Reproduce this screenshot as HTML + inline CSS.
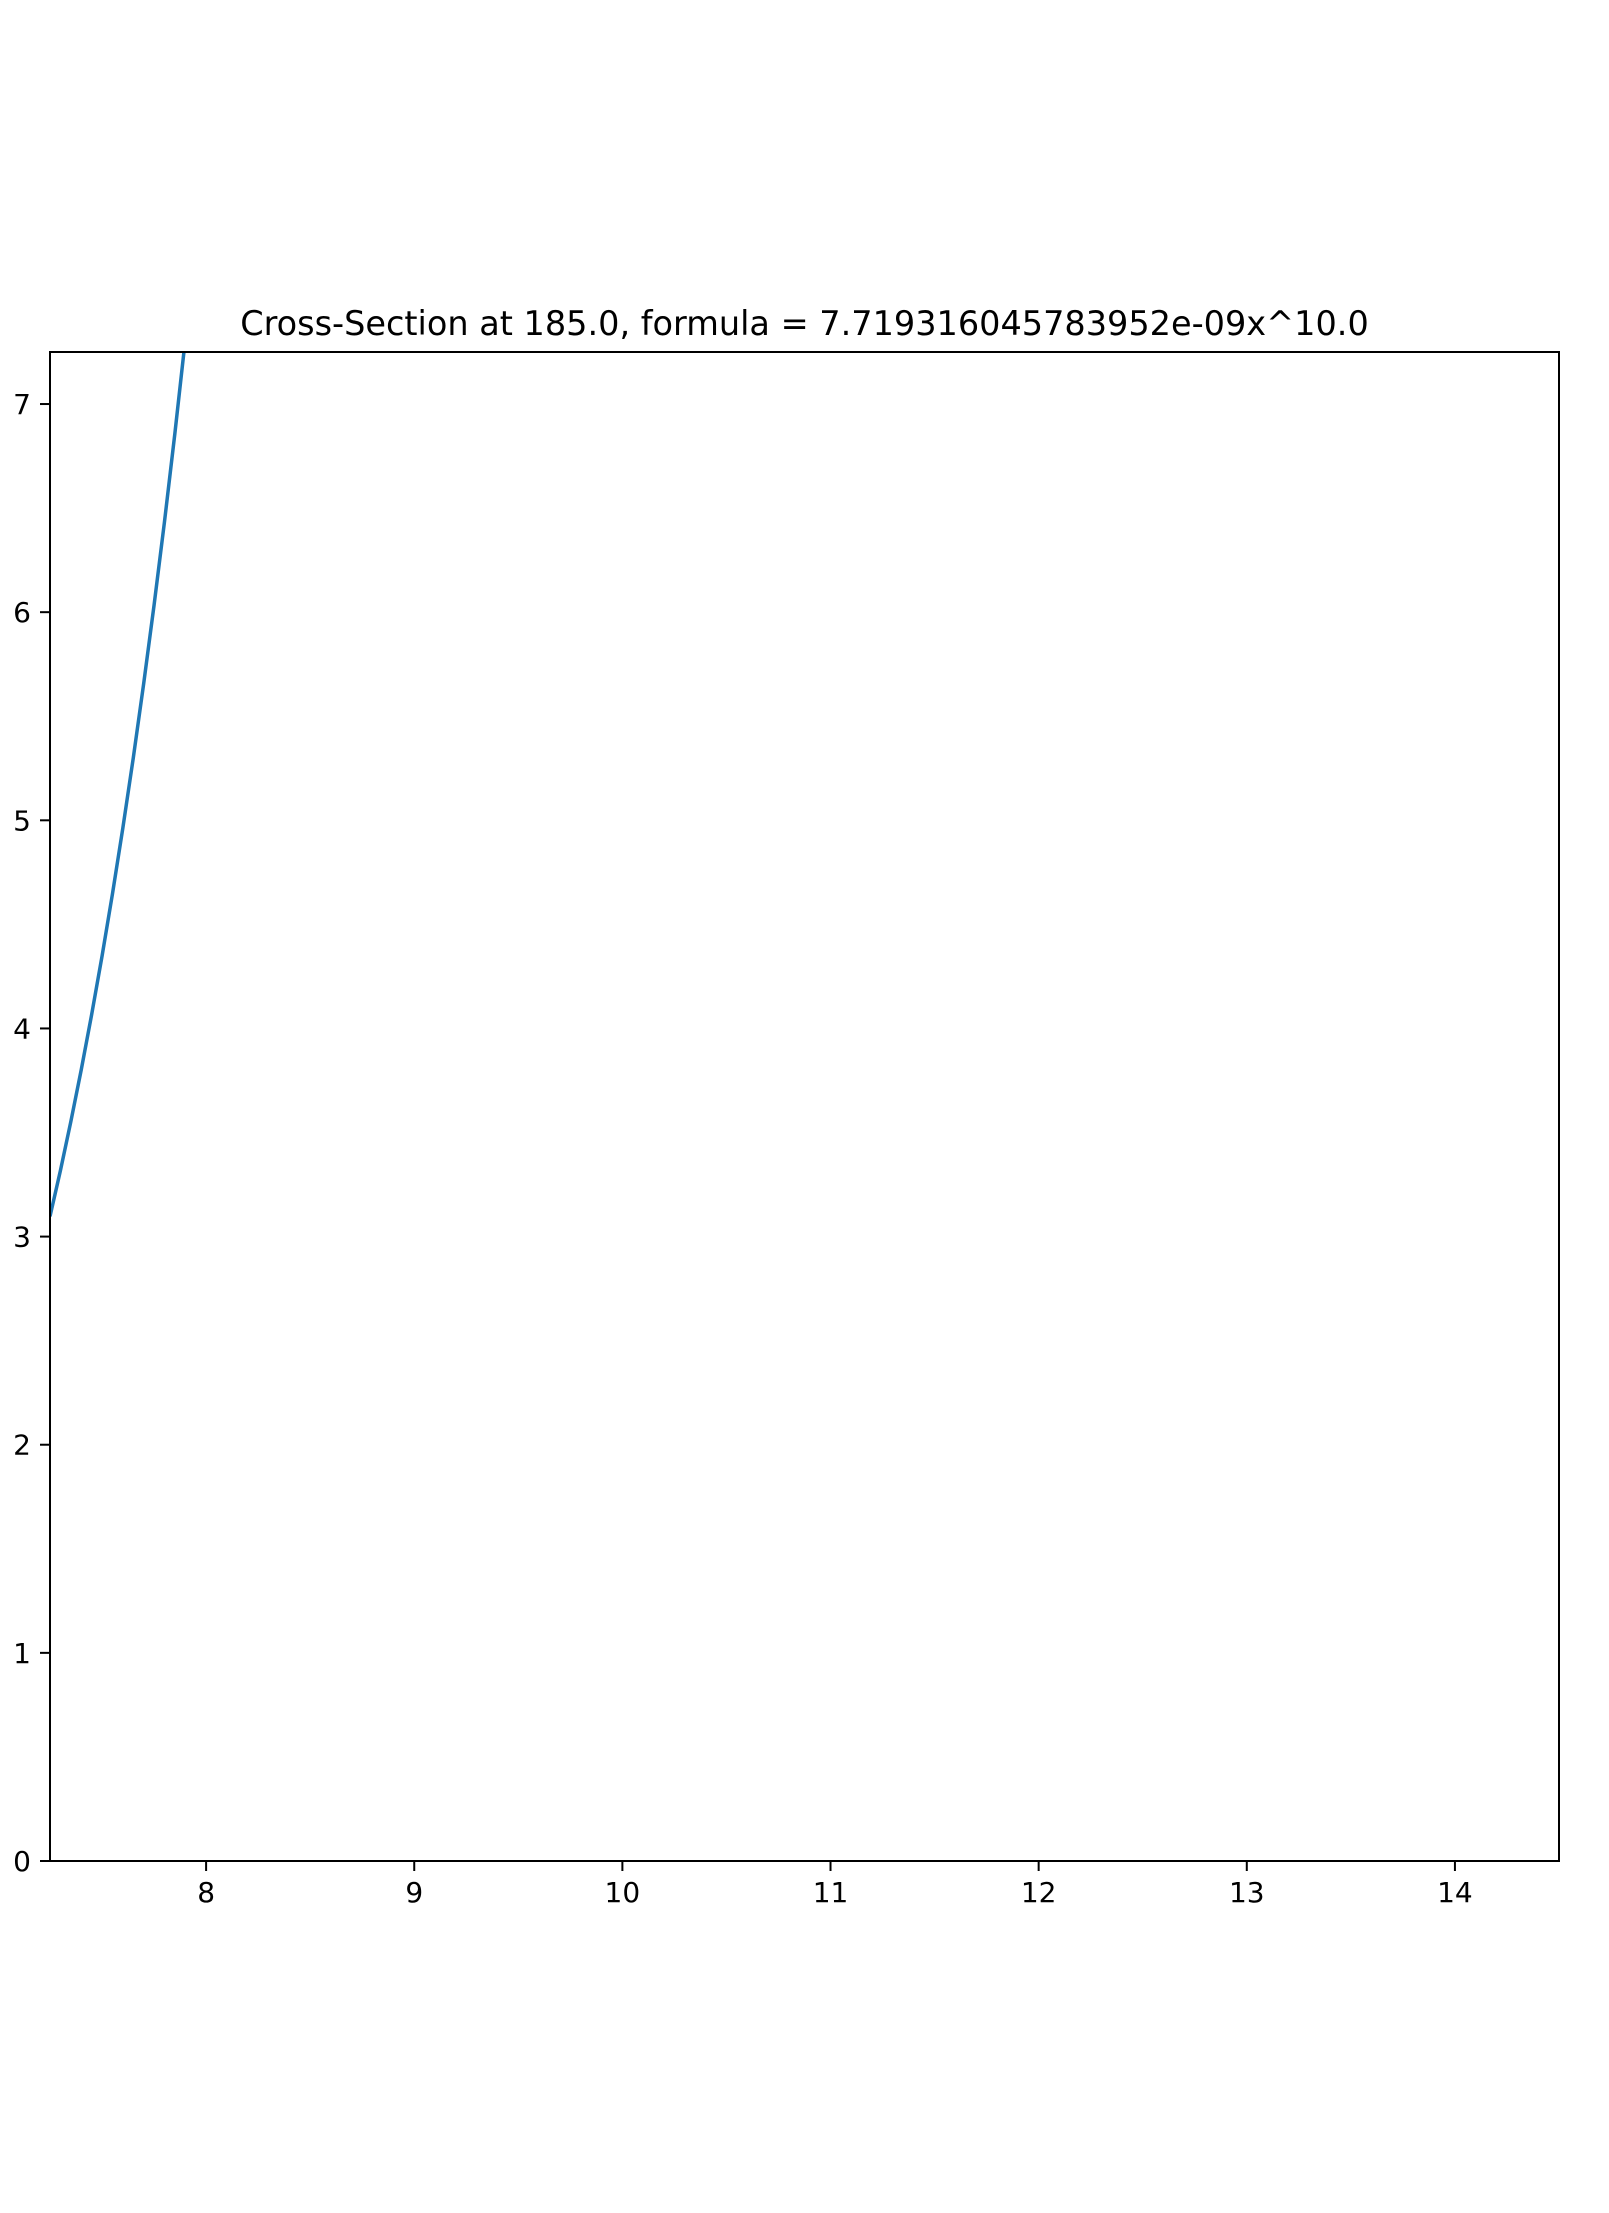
<!DOCTYPE html>
<html><head><meta charset="utf-8"><style>
html,body{margin:0;padding:0;background:#fff;}
svg{display:block;font-family:"DejaVu Sans","Liberation Sans",sans-serif;}
</style></head><body>
<svg id="chart" width="1609" height="2213" viewBox="0 0 1609 2213">
<rect width="1609" height="2213" fill="#fff"/>
<text x="804.5" y="335" font-size="33.5" text-anchor="middle">Cross-Section at 185.0, formula = 7.719316045783952e-09x^10.0</text>
<defs><clipPath id="clip"><rect x="50" y="352" width="1509" height="1509"/></clipPath></defs>
<g id="xticks"></g>
<g id="yticks"></g>
<polyline id="curve" clip-path="url(#clip)" fill="none" stroke="#1f77b4" stroke-width="3.5"/>
<rect x="50" y="352" width="1509" height="1509" fill="none" stroke="#000" stroke-width="2"/>
</svg>
<script>
const xTicks=[8,9,10,11,12,13,14];
const yTicks=[0,1,2,3,4,5,6,7];
const xValues=[7.25,7.3,7.35,7.4,7.45,7.5,7.55,7.6,7.65,7.7,7.75,7.8,7.85,7.9];
const yValues=[3.097,3.317,3.552,3.801,4.066,4.347,4.646,4.963,5.299,5.656,6.034,6.434,6.859,7.309];
const X0=50,X1=1559,Y0=1861,Y1=352,xmin=7.25,xmax=14.5,ymin=0,ymax=7.25;
const sx=v=>X0+(v-xmin)/(xmax-xmin)*(X1-X0);
const sy=v=>Y0-(v-ymin)/(ymax-ymin)*(Y0-Y1);
const NS='http://www.w3.org/2000/svg';
const xg=document.getElementById('xticks'),yg=document.getElementById('yticks');
xTicks.forEach(t=>{
  const l=document.createElementNS(NS,'line');
  l.setAttribute('x1',sx(t));l.setAttribute('x2',sx(t));l.setAttribute('y1',Y0);l.setAttribute('y2',Y0+10);
  l.setAttribute('stroke','#000');l.setAttribute('stroke-width','2');
  
  
  xg.appendChild(l);
  const tx=document.createElementNS(NS,'text');
  tx.setAttribute('x',sx(t));tx.setAttribute('y',1902);tx.setAttribute('font-size','28');tx.setAttribute('text-anchor','middle');
  tx.textContent=t;
  
  
  xg.appendChild(tx);
});
yTicks.forEach(t=>{
  const l=document.createElementNS(NS,'line');
  l.setAttribute('x1',X0-10);l.setAttribute('x2',X0);l.setAttribute('y1',sy(t));l.setAttribute('y2',sy(t));
  l.setAttribute('stroke','#000');l.setAttribute('stroke-width','2');
  
  
  yg.appendChild(l);
  const tx=document.createElementNS(NS,'text');
  tx.setAttribute('x',31);tx.setAttribute('y',sy(t)+10);tx.setAttribute('font-size','28');tx.setAttribute('text-anchor','end');
  tx.textContent=t;
  
  
  yg.appendChild(tx);
});
document.getElementById('curve').setAttribute('points',xValues.map((x,i)=>sx(x)+','+sy(yValues[i])).join(' '));
</script>
</body></html>
